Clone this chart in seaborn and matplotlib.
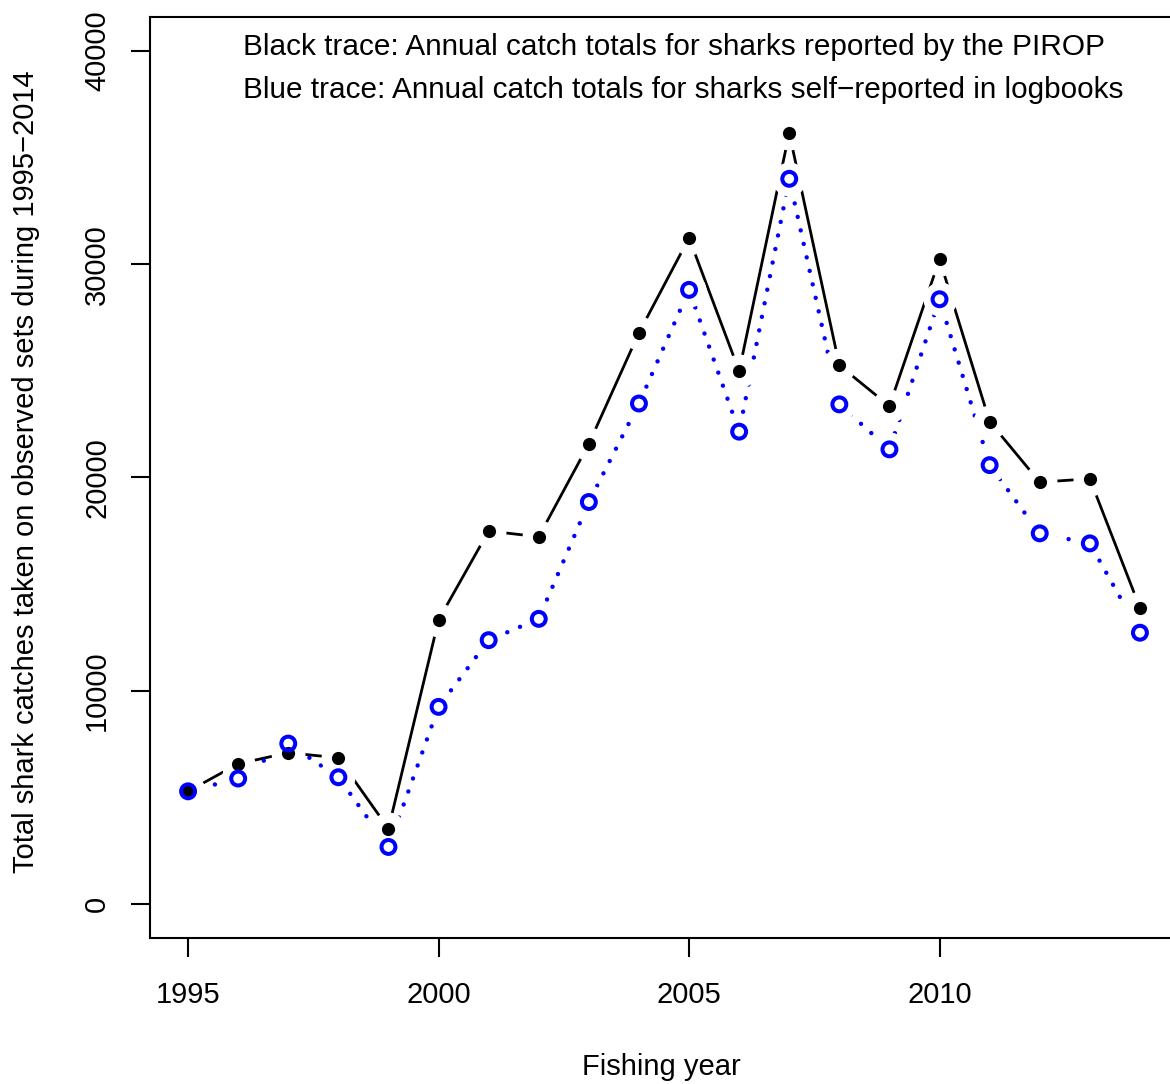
import numpy as np
import pandas as pd
import matplotlib
matplotlib.use("Agg")
import matplotlib.pyplot as plt
import seaborn as sns

# values
years = list(range(1995, 2015))
pirop = [5280, 6570, 7090, 6850, 3530, 13320, 17490, 17220, 21580, 26790,
         31240, 24990, 36160, 25260, 23350, 30240, 22620, 19780, 19940, 13890]
logbook = [5280, 5880, 7520, 5940, 2670, 9240, 12370, 13370, 18850, 23470,
           28800, 22150, 34010, 23430, 21320, 28360, 20580, 17380, 16910, 12720]
x_ticks = [1995, 2000, 2005, 2010]
y_ticks = [0, 10000, 20000, 30000, 40000]

note_black = "Black trace: Annual catch totals for sharks reported by the PIROP"
note_blue = "Blue trace: Annual catch totals for sharks self\u2212reported in logbooks"
x_label = "Fishing year"
y_label = "Total shark catches taken on observed sets during 1995\u22122014"

df = pd.DataFrame({"year": years, "pirop": pirop, "logbook": logbook})

sns.set_style("white")
plt.rcParams['font.family'] = ['Liberation Sans', 'DejaVu Sans']
plt.rcParams['text.color'] = 'black'
plt.rcParams['axes.labelcolor'] = 'black'
plt.rcParams['xtick.color'] = 'black'
plt.rcParams['ytick.color'] = 'black'

fig = plt.figure(figsize=(11.7, 10.84), dpi=100)
# axes box runs a little past the right edge, like the cropped original
ax = fig.add_axes([0.12821, 0.13469, 0.87863, 0.84963])

# lines first (R type="b" style), white halos make the gaps at points
sns.lineplot(data=df, x="year", y="pirop", color="black", lw=2.0, ax=ax)
sns.lineplot(data=df, x="year", y="logbook", color="#0000ff", lw=3.2,
             linestyle=(0, (0.01, 3.1)), dash_capstyle="round", ax=ax)
sns.scatterplot(data=df, x="year", y="pirop", s=600, color="white",
                linewidth=0, ax=ax, zorder=3)
sns.scatterplot(data=df, x="year", y="logbook", s=600, color="white",
                linewidth=0, ax=ax, zorder=3)
sns.scatterplot(data=df, x="year", y="pirop", s=90, color="black",
                linewidth=0, ax=ax, zorder=4)
sns.scatterplot(data=df, x="year", y="logbook", s=100, facecolor="none",
                edgecolor="#0000ff", linewidth=2.9, ax=ax, zorder=5)

ax.set_xlim(1994.24, 2014.76)
ax.set_ylim(-1600, 41600)
ax.set_xticks(x_ticks)
ax.set_yticks(y_ticks)
ax.set_xticklabels([str(t) for t in x_ticks], fontsize=21)
ax.set_yticklabels([str(t) for t in y_ticks], fontsize=21, rotation=90,
                   va="center")
ax.tick_params(axis="both", direction="out", length=14, width=1.5,
               color="black", bottom=True, left=True)
ax.tick_params(axis="x", pad=17)
ax.tick_params(axis="y", pad=14)
for sp in ax.spines.values():
    sp.set_visible(True)
    sp.set_color("black")
    sp.set_linewidth(1.5)

ax.set_xlabel(x_label, fontsize=21, va="center")
ax.set_ylabel(y_label, fontsize=21, va="center")
ax.xaxis.set_label_coords(0.497, -0.140)
ax.yaxis.set_label_coords(-0.1206, 0.506)

ax.text(0.0905, 0.9674, note_black, transform=ax.transAxes, fontsize=21.4,
        ha="left", va="center")
ax.text(0.0905, 0.9207, note_blue, transform=ax.transAxes, fontsize=21.4,
        ha="left", va="center")

fig.savefig("out.png", dpi=100)
plt.close(fig)
